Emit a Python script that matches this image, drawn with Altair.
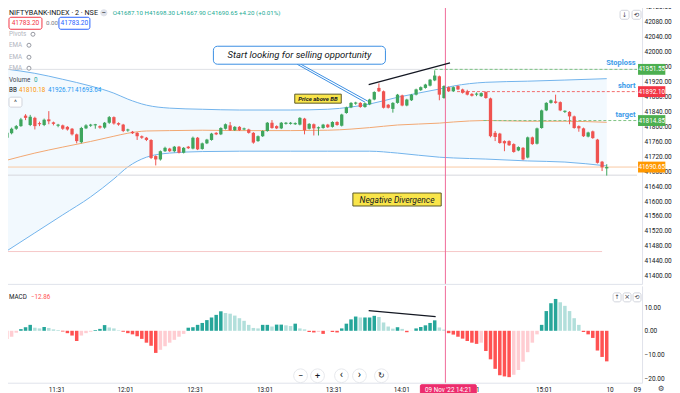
import json
import altair as alt
import pandas as pd

FONT = "Roboto"
UP = "#3fa65e"
DOWN = "#ef5350"

# ---------------- candles (2-minute) ----------------
opens = [41769, 41781, 41793, 41800, 41828, 41803, 41822, 41808, 41803, 41818,
         41810, 41801, 41802, 41798, 41793, 41778, 41757, 41794, 41801, 41802,
         41800, 41796, 41809, 41824, 41808, 41804, 41788,
         41785, 41782, 41773, 41769, 41763, 41720, 41711, 41733, 41740, 41733,
         41745, 41729, 41745, 41740, 41769, 41739, 41754, 41763, 41782, 41778,
         41793, 41802, 41789, 41798, 41791, 41791,
         41782, 41760, 41773, 41787, 41809, 41800, 41794, 41806, 41806, 41805,
         41804, 41820, 41793, 41805, 41794, 41795, 41804, 41798, 41811, 41801,
         41835, 41850, 41860, 41862, 41851,
         41858, 41871, 41902, 41893, 41857, 41846, 41862, 41882, 41855, 41869,
         41884, 41896, 41902, 41908, 41922, 41933, 41875, 41904, 41893, 41907,
         41898, 41893, 41886, 41884,
         41880, 41891, 41874, 41782, 41780, 41760, 41760, 41752, 41735, 41742,
         41716, 41770, 41753, 41795, 41842, 41862, 41866, 41864, 41838, 41838,
         41826, 41800, 41794, 41772, 41786, 41764, 41705, 41687.10]
highs = [41786, 41796, 41803, 41822, 41832, 41830, 41825, 41812, 41820, 41840,
         41812, 41806, 41804, 41800, 41795, 41780, 41798, 41805, 41806, 41806,
         41802, 41811, 41827, 41826, 41810, 41806, 41793,
         41787, 41784, 41775, 41771, 41765, 41722, 41735, 41745, 41742, 41747,
         41747, 41744, 41747, 41772, 41771, 41756, 41766, 41782, 41784, 41797,
         41807, 41811, 41800, 41800, 41796, 41793,
         41784, 41775, 41789, 41811, 41816, 41802, 41811, 41811, 41811, 41810,
         41824, 41822, 41808, 41807, 41799, 41806, 41806, 41813, 41813, 41833,
         41852, 41864, 41865, 41864, 41863,
         41873, 41893, 41914, 41895, 41859, 41864, 41886, 41884, 41873, 41886,
         41900, 41906, 41913, 41926, 41949, 41935, 41909, 41906, 41906, 41909,
         41900, 41897, 41888, 41890,
         41890, 41893, 41876, 41787, 41782, 41762, 41762, 41754, 41746, 41744,
         41772, 41772, 41796, 41844, 41864, 41871, 41884, 41866, 41842, 41840,
         41828, 41802, 41796, 41785, 41788, 41766, 41707, 41698.30]
lows = [41765, 41778, 41790, 41798, 41816, 41800, 41791, 41800, 41800, 41805,
        41802, 41797, 41790, 41788, 41775, 41754, 41754, 41792, 41798, 41793,
        41793, 41793, 41806, 41804, 41801, 41784, 41785,
        41779, 41763, 41766, 41760, 41712, 41695, 41708, 41731, 41731, 41730,
        41727, 41727, 41739, 41738, 41736, 41737, 41752, 41761, 41776, 41776,
        41791, 41787, 41787, 41787, 41789, 41780,
        41753, 41758, 41771, 41785, 41793, 41792, 41792, 41804, 41804, 41803,
        41802, 41778, 41791, 41775, 41775, 41793, 41795, 41796, 41801, 41799,
        41833, 41848, 41857, 41849, 41849,
        41856, 41869, 41891, 41847, 41847, 41836, 41860, 41853, 41853, 41867,
        41882, 41894, 41900, 41906, 41920, 41869, 41873, 41891, 41891, 41896,
        41887, 41882, 41879, 41880,
        41878, 41873, 41770, 41760, 41753, 41733, 41747, 41729, 41733, 41709,
        41714, 41750, 41751, 41793, 41840, 41860, 41860, 41840, 41835, 41805,
        41793, 41785, 41771, 41770, 41766, 41700, 41680, 41667.90]
closes = [41782, 41793, 41800, 41818, 41822, 41825, 41800, 41805, 41817, 41813,
          41806, 41804, 41793, 41791, 41778, 41760, 41795, 41802, 41804, 41805,
          41796, 41809, 41824, 41807, 41804, 41787, 41791,
          41781, 41773, 41769, 41763, 41715, 41711, 41733, 41742, 41733, 41745,
          41729, 41742, 41741, 41769, 41738, 41754, 41764, 41780, 41778, 41795,
          41805, 41789, 41798, 41789, 41794, 41782,
          41756, 41773, 41787, 41809, 41795, 41794, 41809, 41809, 41809, 41808,
          41822, 41789, 41806, 41794, 41797, 41804, 41797, 41811, 41803, 41831,
          41850, 41862, 41863, 41851, 41861,
          41871, 41891, 41893, 41849, 41849, 41862, 41884, 41855, 41871, 41884,
          41898, 41904, 41911, 41924, 41935, 41884, 41907, 41893, 41904, 41898,
          41889, 41884, 41881, 41887,
          41888, 41875, 41773, 41771, 41755, 41754, 41749, 41731, 41744, 41711,
          41770, 41752, 41794, 41842, 41862, 41869, 41862, 41842, 41841, 41826,
          41795, 41794, 41773, 41783, 41768, 41702, 41690, 41690.65]

# ---------------- MACD histogram ----------------
macd_hist = [-3.5, -2.5, -0.8, 0.7, 1.5, 2.5, 1.3, 1.0, 1.6, 1.2,
             0.6, 0.3, -0.3, -1.0, -2.0, -4.3, -2.0, -1.0, -0.4, 0.3,
             0.8, 2.4, 1.4, 1.0, 0.2, -0.4, -1.0, -1.5, -2.3, -3.4,
             -5.0, -6.3, -9.3, -8.0, -6.5, -5.0, -3.8, -2.5, -1.3, 1.3,
             1.5, 2.5, 3.3, 4.5, 5.6, 6.7, 8.2, 7.5, 7.2, 6.4,
             5.3, 4.2, 2.5, 1.2, 1.0, 2.5, 2.5, 1.8, 2.6, 2.6,
             2.3, 2.0, 3.0, 1.0, 0.6, -0.5, -0.7, -0.5, -1.3, -0.1,
             -0.5, -0.7, 1.0, 3.0, 4.8, 6.0, 5.6, 5.6, 5.6, 6.3,
             5.8, 3.5, 1.8, 0.9, 1.5, 0.8, -0.6, -0.1, 1.0, 1.6,
             2.3, 3.3, 4.4, 1.4, 0.5, -1.0, -1.6, -2.5, -3.3, -4.3,
             -5.0, -5.5, -5.0, -8.5, -12.0, -16.0, -18.7, -19.2, -19.5, -18.5,
             -16.5, -13.0, -9.0, -5.0, -1.5, 2.5, 8.3, 11.6, 13.4, 12.0,
             10.5, 8.3, 5.3, 2.5, -0.5, -1.5, -3.0, -8.3, -11.0, -12.86]

# ---------------- Bollinger bands (sampled candles) ----------------
band_idx = [0, 6, 12, 18, 23, 26, 30, 35, 42, 50, 61, 69, 74, 78, 84, 93, 96, 103, 112, 120, 129]
bb_upper = [41952, 41941, 41925, 41907, 41888, 41872, 41856, 41848, 41845, 41843, 41843,
            41845, 41851, 41859, 41877, 41899, 41907, 41917, 41920, 41923, 41926.71]
bb_basis = [41709, 41728, 41744, 41759, 41773, 41781, 41787, 41788, 41789, 41788, 41788,
            41789, 41792, 41796, 41803, 41808, 41811, 41815, 41813, 41813, 41810.18]
bb_lower = [41467, 41515, 41563, 41611, 41659, 41691, 41717, 41728, 41732, 41733, 41733,
            41733, 41733, 41733, 41728, 41717, 41715, 41712, 41707, 41704, 41693.64]

# ---------------- levels and labels ----------------
stoploss, short_px, target, last_px = 41951.55, 41892.10, 41814.85, 41690.65
tick_pos = [10.6, 25.4, 40.4, 55.4, 70.2, 84.8, 99.8, 115.4, 129.6, 135.5]
tick_txt = ["11:31", "12:01", "12:31", "13:01", "13:31", "14:01", "14:31", "15:01", "10", "09"]
price_ticks = list(range(41400, 42121, 40))
macd_ticks = [10, 0, -10, -20]
cross_j = 94.3

# ---------------- scales / axes ----------------
PLOT_W = 643
J_END = 135.52
XS = alt.Scale(domain=[-0.42, J_END], nice=False, zero=False)
YS = alt.Scale(domain=[41378.7, 42133.3], nice=False, zero=False)
MS = alt.Scale(domain=[-21.85, 18.9], nice=False, zero=False)

AX_COMMON = dict(ticks=False, grid=False, title="", labelFontSize=6.5, labelColor="#131722",
                 labelFont=FONT, domainColor="#e0e3eb")
top_xaxis = alt.Axis(labels=False, **AX_COMMON)
top_yaxis = alt.Axis(orient="right", values=price_ticks, format=".2f", labelPadding=2, **AX_COMMON)
label_expr = f"{json.dumps(tick_txt)}[indexof({json.dumps(tick_pos)}, datum.value)]"
bot_xaxis = alt.Axis(values=tick_pos, labelExpr=label_expr, labelPadding=4, labelFlush=False,
                     labelOverlap=False, **AX_COMMON)
bot_yaxis = alt.Axis(orient="right", values=macd_ticks, format=".2f", labelPadding=2, **AX_COMMON)


def X(f):
    return alt.X(f, type="quantitative", scale=XS, axis=top_xaxis)


def Y(f):
    return alt.Y(f, type="quantitative", scale=YS, axis=top_yaxis)


def MX(f):
    return alt.X(f, type="quantitative", scale=XS, axis=bot_xaxis)


def MY(f):
    return alt.Y(f, type="quantitative", scale=MS, axis=bot_yaxis)


def one():
    return pd.DataFrame({"a": [0]})


def txt(px, py, s, size=6.5, color="#131722", align="left", weight="normal", style="normal", font=FONT):
    return alt.Chart(pd.DataFrame({"t": [s]})).mark_text(
        align=align, baseline="middle", fontSize=size, color=color, fontWeight=weight,
        fontStyle=style, font=font).encode(x=alt.value(px), y=alt.value(py), text="t:N")


def box(x1, x2, y1, y2, fill="white", stroke="#d1d4dc", r=2):
    return alt.Chart(one()).mark_rect(fill=fill, stroke=stroke, strokeWidth=1, cornerRadius=r).encode(
        x=alt.value(x1), x2=alt.value(x2), y=alt.value(y1), y2=alt.value(y2))


def dot(px, py, size, fill, stroke, filled=True):
    return alt.Chart(one()).mark_point(shape="circle", filled=filled, size=size, fill=fill,
                                       stroke=stroke, strokeWidth=1, opacity=1).encode(
        x=alt.value(px), y=alt.value(py))


# ---------------- data frames ----------------
n = len(closes)
cd = pd.DataFrame({"j": list(range(n)), "o": opens, "h": highs, "l": lows, "c": closes})
cd["col"] = [UP if c >= o else DOWN for o, c in zip(opens, closes)]

bd = pd.DataFrame({"j": band_idx, "up": bb_upper, "mid": bb_basis, "lo": bb_lower})

cols = []
for k, v in enumerate(macd_hist):
    prev = macd_hist[k - 1] if k > 0 else v
    if v >= 0:
        cols.append("#26a69a" if v >= prev else "#b2dfdb")
    else:
        cols.append("#ff5252" if v < prev else "#ffcdd2")
md = pd.DataFrame({"j": list(range(len(macd_hist))), "v": macd_hist, "z": 0.0, "col": cols})

solid_lines = pd.DataFrame({
    "j1": [-0.42, -0.42, -0.42, -0.42],
    "j2": [J_END, J_END, J_END, 128.0],
    "p": [stoploss, last_px, 41669.0, 41465.0],
    "col": ["#dfe1e6", "#f9c9a3", "#d6d8de", "#f6c8c8"],
})
dashed_lines = pd.DataFrame({
    "j1": [92.0, 96.8, 102.5],
    "j2": [J_END, J_END, J_END],
    "p": [stoploss, short_px, target],
    "col": ["#7dc383", "#f26b6b", "#7dc383"],
})
line_labels = pd.DataFrame({
    "j": [135.2, 135.2, 135.2],
    "p": [stoploss, short_px, target],
    "t": ["Stoploss", "short", "target"],
})
price_boxes = pd.DataFrame({
    "j1": [135.73] * 4, "j2": [141.6] * 4, "jc": [138.69] * 4,
    "p": [stoploss, short_px, target, last_px],
    "t": ["41951.55", "41892.10", "41814.85", "41690.65"],
    "col": ["#4caf50", "#f23645", "#4caf50", "#ff9800"],
})
price_boxes["p1"] = price_boxes["p"] - 14.5
price_boxes["p2"] = price_boxes["p"] + 14.5

# ---------------- top pane ----------------
band = alt.Chart(bd).mark_area(color="#2196f3", opacity=0.06, interpolate="monotone").encode(
    x=X("j"), y=Y("lo"), y2=alt.Y2("up"))
up_line = alt.Chart(bd).mark_line(color="#72b4ec", strokeWidth=1, interpolate="monotone").encode(
    x=X("j"), y=Y("up"))
lo_line = alt.Chart(bd).mark_line(color="#72b4ec", strokeWidth=1, interpolate="monotone").encode(
    x=X("j"), y=Y("lo"))
mid_line = alt.Chart(bd).mark_line(color="#f2a872", strokeWidth=1, interpolate="monotone").encode(
    x=X("j"), y=Y("mid"))

solid = alt.Chart(solid_lines).mark_rule(strokeWidth=1).encode(
    x=X("j1"), x2=alt.X2("j2"), y=Y("p"), color=alt.Color("col:N", scale=None))
dashed = alt.Chart(dashed_lines).mark_rule(strokeWidth=1, strokeDash=[3, 2]).encode(
    x=X("j1"), x2=alt.X2("j2"), y=Y("p"), color=alt.Color("col:N", scale=None))

wicks = alt.Chart(cd).mark_rule(strokeWidth=1).encode(
    x=X("j"), y=Y("l"), y2=alt.Y2("h"), color=alt.Color("col:N", scale=None))
bodies = alt.Chart(cd).mark_bar(size=3.3).encode(
    x=X("j"), y=Y("o"), y2=alt.Y2("c"), color=alt.Color("col:N", scale=None))

cross_top = alt.Chart(pd.DataFrame({"j": [cross_j]})).mark_rule(color="#f06b9a", strokeWidth=1).encode(x=X("j"))

trend = alt.Chart(pd.DataFrame({"j": [77.8, 95.3], "p": [41911, 41969]})).mark_line(
    color="#131722", strokeWidth=1.2).encode(x=X("j"), y=Y("p"))

call_lines = alt.Chart(pd.DataFrame({
    "j1": [62.4, 63.2], "j2": [77.0, 77.6], "p1": [41965.3, 41965.3], "p2": [41864.0, 41866.7]
})).mark_rule(color="#3b8fe3", strokeWidth=1).encode(
    x=X("j1"), x2=alt.X2("j2"), y=Y("p1"), y2=alt.Y2("p2"))
call_box = alt.Chart(pd.DataFrame({"j1": [44.4], "j2": [81.4], "p1": [41965.3], "p2": [42013.3]})).mark_rect(
    fill="white", stroke="#3b8fe3", strokeWidth=1, cornerRadius=4).encode(
    x=X("j1"), x2=alt.X2("j2"), y=Y("p1"), y2=alt.Y2("p2"))
call_txt = alt.Chart(pd.DataFrame({"j": [62.9], "p": [41989.3], "t": ["Start looking for selling opportunity"]})).mark_text(
    fontSize=9.5, fontStyle="italic", color="#131722", font=FONT).encode(x=X("j"), y=Y("p"), text="t:N")

yb = pd.DataFrame({"j1": [61.9, 74.4], "j2": [71.9, 93.4], "p1": [41861.3, 41586.7], "p2": [41885.3, 41621.3]})
yellow_boxes = alt.Chart(yb).mark_rect(fill="#f9e54a", stroke="#5c5a2a", strokeWidth=1).encode(
    x=X("j1"), x2=alt.X2("j2"), y=Y("p1"), y2=alt.Y2("p2"))
ytxt1 = alt.Chart(pd.DataFrame({"j": [66.9], "p": [41873.3], "t": ["Price above BB"]})).mark_text(
    fontSize=6, fontStyle="italic", fontWeight="bold", color="#131722", font=FONT).encode(
    x=X("j"), y=Y("p"), text="t:N")
ytxt2 = alt.Chart(pd.DataFrame({"j": [83.9], "p": [41604.0], "t": ["Negative Divergence"]})).mark_text(
    fontSize=8.5, fontStyle="italic", color="#131722", font=FONT).encode(
    x=X("j"), y=Y("p"), text="t:N")

lvl_txt = alt.Chart(line_labels).mark_text(align="right", baseline="bottom", dy=-2, fontSize=7.5,
                                            fontWeight="bold", color="#3d9be9", font=FONT).encode(
    x=X("j"), y=Y("p"), text="t:N")

pbox = alt.Chart(price_boxes).mark_rect().encode(
    x=X("j1"), x2=alt.X2("j2"), y=Y("p1"), y2=alt.Y2("p2"), color=alt.Color("col:N", scale=None))
ptxt = alt.Chart(price_boxes).mark_text(fontSize=6.4, color="white", font=FONT).encode(
    x=X("jc"), y=Y("p"), text="t:N")

top_chrome = [
    txt(9, 11.5, "NIFTYBANK-INDEX · 2 · NSE", size=7.2),
    dot(104, 11.5, 40, "#e0e3eb", "#e0e3eb"),
    txt(104, 11.5, "–", size=7, align="center"),
    txt(113, 11.5, "O41687.10 H41698.30 L41667.90 C41690.65 +4.20 (+0.01%)", size=6.2, color="#22ab94"),
    box(9, 42, 16, 28, stroke="#f23645"),
    txt(25.5, 22, "41783.20", size=6.6, color="#f23645", align="center"),
    txt(46, 22, "0.00", size=6.2, color="#787b86"),
    box(59, 90, 16, 28, stroke="#2962ff"),
    txt(74.5, 22, "41783.20", size=6.6, color="#2962ff", align="center"),
    txt(9, 33, "Pivots", size=6.3, color="#b2b5be"),
    dot(33, 33, 16, "white", "#9598a1", filled=False),
    txt(9, 44, "EMA", size=6.3, color="#b2b5be"),
    dot(29, 44, 16, "white", "#9598a1", filled=False),
    txt(9, 56, "EMA", size=6.3, color="#b2b5be"),
    dot(29, 56, 16, "white", "#9598a1", filled=False),
    txt(9, 67, "EMA", size=6.3, color="#b2b5be"),
    dot(29, 67, 16, "white", "#9598a1", filled=False),
    txt(9, 79, "Volume", size=6.3, color="#434651"),
    txt(34, 79, "0", size=6.3, color="#26a69a"),
    txt(9, 89, "BB", size=6.3, color="#131722"),
    txt(19, 89, "41810.18", size=6.3, color="#ff9800"),
    txt(48, 89, "41926.71", size=6.3, color="#2196f3"),
    txt(75, 89, "41693.64", size=6.3, color="#2196f3"),
    box(9, 22, 96, 106, stroke="#d1d4dc"),
    txt(15.5, 102, "^", size=7, color="#434651", align="center"),
    box(621, 630, 9, 18, stroke="#d1d4dc"),
    txt(625.5, 13.5, "↓", size=6.5, color="#434651", align="center", font="DejaVu Sans"),
    box(633, 642, 9, 18, stroke="#d1d4dc"),
    txt(637.5, 13.5, "⟲", size=6.5, color="#434651", align="center", font="DejaVu Sans"),
]

top = alt.layer(
    band, up_line, lo_line, mid_line, solid, dashed, wicks, bodies, cross_top, trend,
    call_lines, call_box, call_txt, yellow_boxes, ytxt1, ytxt2, lvl_txt, pbox, ptxt,
    *top_chrome
).properties(width=PLOT_W, height=283)

# ---------------- MACD pane ----------------
macd_bars = alt.Chart(md).mark_bar(size=3.5).encode(
    x=MX("j"), y=MY("v"), y2=alt.Y2("z"), color=alt.Color("col:N", scale=None))
macd_trend = alt.Chart(pd.DataFrame({"j": [77.8, 92.2], "v": [8.5, 6.0]})).mark_line(
    color="#131722", strokeWidth=1.2).encode(x=MX("j"), y=MY("v"))
cross_bot = alt.Chart(pd.DataFrame({"j": [cross_j]})).mark_rule(color="#f06b9a", strokeWidth=1).encode(x=MX("j"))

bot_chrome = [
    txt(9, 11, "MACD", size=6.3, color="#131722"),
    txt(31, 11, "−12.86", size=6.3, color="#ff5252"),
    box(614, 622, 7, 16, stroke="#d1d4dc"),
    txt(618, 11.5, "↑", size=6, color="#434651", align="center", font="DejaVu Sans"),
    box(624, 632, 7, 16, stroke="#d1d4dc"),
    txt(628, 11.5, "×", size=7, color="#434651", align="center", font="DejaVu Sans"),
    box(634, 642, 7, 16, stroke="#d1d4dc"),
    txt(638, 11.5, "⟲", size=6, color="#434651", align="center", font="DejaVu Sans"),
    dot(301, 90, 190, "white", "#e6e8ec"),
    txt(301, 90, "−", size=9, color="#131722", align="center"),
    dot(318, 90, 190, "white", "#e6e8ec"),
    txt(318, 90, "+", size=9, color="#131722", align="center"),
    dot(342, 90, 190, "white", "#e6e8ec"),
    txt(342, 89.5, "‹", size=11, color="#131722", align="center"),
    dot(360, 90, 190, "white", "#e6e8ec"),
    txt(360, 89.5, "›", size=11, color="#131722", align="center"),
    dot(382, 90, 190, "white", "#e6e8ec"),
    txt(382, 90, "↻", size=8, color="#131722", align="center", font="DejaVu Sans"),
    box(421, 477, 99, 109, fill="#ec2d6d", stroke="#ec2d6d", r=1),
    txt(449, 104.2, "09 Nov '22   14:21", size=6.3, color="white", align="center"),
    txt(662, 103.5, "⚙", size=7.5, color="#434651", align="center", font="DejaVu Sans"),
]

bottom = alt.layer(macd_bars, macd_trend, cross_bot, *bot_chrome).properties(width=PLOT_W, height=97)

chart = alt.vconcat(
    top, bottom, spacing=0,
    padding={"left": -8, "top": -8, "right": 0, "bottom": 0},
).configure(font=FONT).configure_view(strokeWidth=0)

chart.save("out.html", embed_options={"renderer": "svg", "actions": False})
